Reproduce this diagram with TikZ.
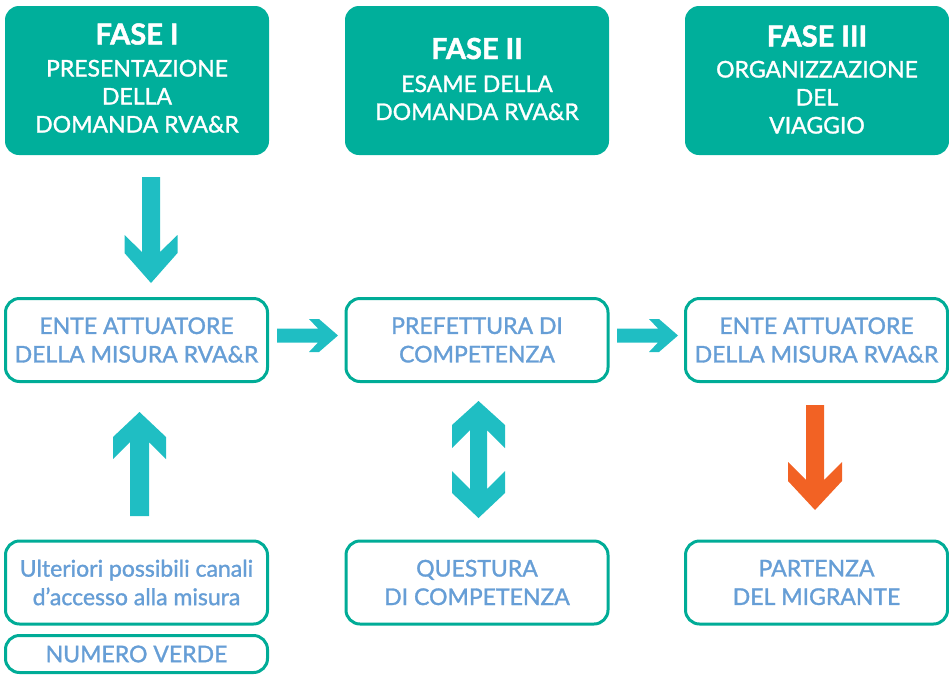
\documentclass[tikz,border=0pt]{standalone}
\usepackage{fontspec}
\setmainfont{Lato}
\newfontfamily\medfont{Lato}[FakeBold=1.3]
\newfontfamily\ttlfont{Lato}[BoldFeatures={FakeBold=1.6}]
\definecolor{phteal}{HTML}{00AF9B}
\definecolor{arteal}{HTML}{1FBEC3}
\definecolor{bdteal}{HTML}{00AC97}
\definecolor{txblue}{HTML}{669ED6}
\definecolor{orng}{HTML}{F26224}
\newcommand{\phtitlefont}{\ttlfont\fontsize{29}{28}\selectfont\bfseries}
\begin{document}
\begin{tikzpicture}[x=1pt,y=-1pt,
 phase/.style={fill=phteal, rounded corners=14pt, minimum width=264pt, minimum height=149pt, inner sep=0pt},
 phtext/.style={text=white, align=center, font=\medfont\fontsize{23}{28}\selectfont, inner sep=0pt},
 wbox/.style={draw=bdteal, line width=3pt, fill=white, rounded corners=14pt, minimum width=262pt, minimum height=83pt, text=txblue, align=center, font=\medfont\fontsize{23}{28.5}\selectfont, inner sep=0pt},
 fat/.style={fill=arteal, draw=none},
 fatorange/.style={fill=orng, draw=none}]
\useasboundingbox (0,0) rectangle (949,675);

% phase boxes
\node[phase] (p1) at (137,80.5) {};
\node[phase] (p2) at (477,80.5) {};
\node[phase] (p3) at (817,80.5) {};
\node[phtext] (p1t) at (137,78) {{\phtitlefont FASE I}\\[4pt]PRESENTAZIONE\\DELLA\\DOMANDA RVA\&R};
\node[phtext] (p2t) at (477,79) {{\phtitlefont FASE II}\\[5pt]ESAME DELLA\\DOMANDA RVA\&R};
\node[phtext] (p3t) at (817,79.5) {{\phtitlefont FASE III}\\[3pt]ORGANIZZAZIONE\\DEL\\VIAGGIO};

% middle row
\node[wbox] (e1) at (136.5,340) {ENTE ATTUATORE\\DELLA MISURA RVA\&R};
\node[wbox] (pref) at (477,340) {PREFETTURA DI\\COMPETENZA};
\node[wbox] (e3) at (816.5,340) {ENTE ATTUATORE\\DELLA MISURA RVA\&R};

% bottom row
\node[wbox] (ult) at (136.5,582.5) {Ulteriori possibili canali\\d’accesso alla misura};
\node[wbox, minimum height=37pt] (num) at (136.5,654) {NUMERO VERDE};
\node[wbox] (que) at (477,582.5) {QUESTURA\\DI COMPETENZA};
\node[wbox] (par) at (816.5,582.5) {PARTENZA\\DEL MIGRANTE};

% arrows
\fill[fat] (142,177) -- (160,177) -- (160,252) -- (177.5,235) -- (177.5,253) -- (151,283) -- (124.5,253) -- (124.5,235) -- (142,252) -- cycle;
\fill[fat] (130,516) -- (149,516) -- (149,442) -- (166,459) -- (166,437) -- (139.5,412) -- (113,437) -- (113,459) -- (130,442) -- cycle;
\fill[fat] (478.5,401) -- (505,425) -- (505,448) -- (487,430) -- (487,489) -- (505,471) -- (505,493) -- (478.5,518) -- (452,493) -- (452,471) -- (470,489) -- (470,430) -- (452,448) -- (452,425) -- cycle;
\fill[fatorange] (806,405) -- (824,405) -- (824,480) -- (842,462) -- (842,481) -- (815,510) -- (788,481) -- (788,462) -- (806,480) -- cycle;
\fill[fat] (277,328.5) -- (318,328.5) -- (309,319) -- (319,319) -- (338,335.5) -- (319,352) -- (309,352) -- (318,342.5) -- (277,342.5) -- cycle;
\fill[fat] (617,328.5) -- (658,328.5) -- (649,319) -- (659,319) -- (678,335.5) -- (659,352) -- (649,352) -- (658,342.5) -- (617,342.5) -- cycle;
\end{tikzpicture}
\end{document}
